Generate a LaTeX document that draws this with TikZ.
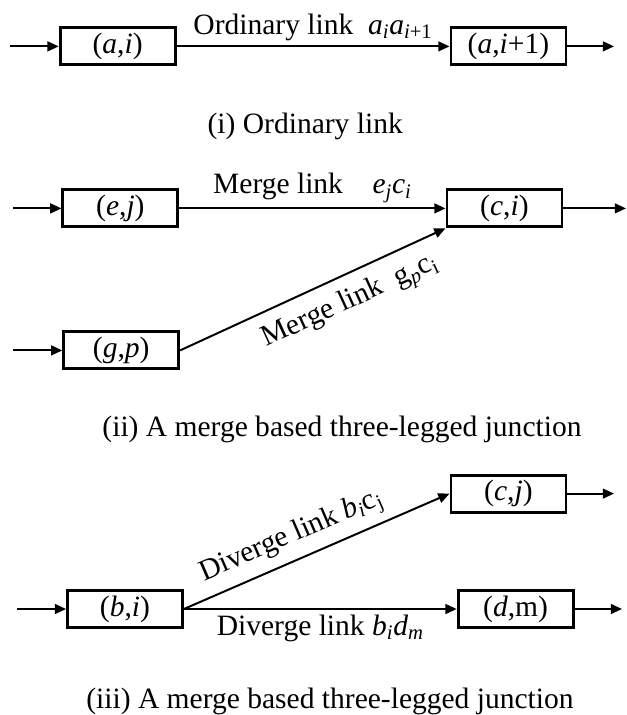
\documentclass[tikz,border=0pt]{standalone}
\usepackage{fontspec}
\setmainfont{Liberation Serif}
\usetikzlibrary{arrows.meta}

\newcommand{\ital}[1]{\textit{#1}}
\newcommand{\subs}[1]{\textsubscript{#1}}

\begin{document}
\begin{tikzpicture}[>={Triangle[length=8pt,width=7pt]}, line width=1.4pt,
    font=\fontsize{21}{25}\selectfont,
    cell/.style={draw, line width=2pt, minimum width=2.875cm, minimum height=0.925cm, inner sep=0pt},
    caption/.style={anchor=base}]
    \useasboundingbox (0,0) rectangle (15.65,-17.875);

    % (i) ordinary link
    \node[cell] (ai)  at (2.94,-1.16)  {(\ital{a},\ital{i})};
    \node[cell] (ai1) at (12.71,-1.16) {(\ital{a},\ital{i}+1)};
    \coordinate (ain)  at (0.25,-1.16);
    \coordinate (aout) at (15.35,-1.16);
    \draw[->] (ain) -- (ai);
    \draw[->] (ai) -- (ai1) node[midway, above] {Ordinary link\ \ \ital{a}\subs{\ital{i}}\ital{a}\subs{\ital{i}+1}};
    \draw[->] (ai1) -- (aout);
    \node[caption] (cap1) at (7.63,-3.35) {(i) Ordinary link};

    % (ii) merge
    \node[cell] (ej) at (3.01,-5.21)  {(\ital{e},\ital{j})};
    \node[cell] (ci) at (12.61,-5.21) {(\ital{c},\ital{i})};
    \node[cell] (gp) at (3.03,-8.76)  {(\ital{g},\ital{p})};
    \coordinate (ejin)  at (0.33,-5.21);
    \coordinate (gpin)  at (0.33,-8.76);
    \coordinate (ciout) at (15.65,-5.21);
    \draw[->] (ejin) -- (ej);
    \draw[->] (gpin) -- (gp);
    \draw[->] (ej) -- (ci) node[midway, above] {Merge link\quad \ital{e}\subs{\ital{j}}\ital{c}\subs{\ital{i}}};
    \draw[->] (gp.east) -- (ci.south west) node[pos=0.6, below=5pt, sloped] {Merge link\ \ g\subs{\ital{p}}c\subs{i}};
    \draw[->] (ci) -- (ciout);
    \node[caption] (cap2) at (8.55,-10.9) {(ii) A merge based three-legged junction};

    % (iii) diverge
    \node[cell] (cj) at (12.71,-12.34)  {(\ital{c},\ital{j})};
    \node[cell] (bi) at (3.125,-15.225) {(\ital{b},\ital{i})};
    \node[cell] (dm) at (12.89,-15.225) {(\ital{d},m)};
    \coordinate (bin)   at (0.43,-15.225);
    \coordinate (cjout) at (15.35,-12.34);
    \coordinate (dmout) at (15.55,-15.225);
    \draw[->] (bin) -- (bi);
    \draw[->] (bi.east) -- (cj.west) node[pos=0.44, above=2pt, sloped] {Diverge link \ital{b}\subs{\ital{i}}c\subs{j}};
    \draw[->] (bi) -- (dm) node[midway, below] {Diverge link \ital{b}\subs{\ital{i}}\ital{d}\subs{\ital{m}}};
    \draw[->] (cj) -- (cjout);
    \draw[->] (dm) -- (dmout);
    \node[caption] (cap3) at (8.25,-17.72) {(iii) A merge based three-legged junction};
\end{tikzpicture}
\end{document}
